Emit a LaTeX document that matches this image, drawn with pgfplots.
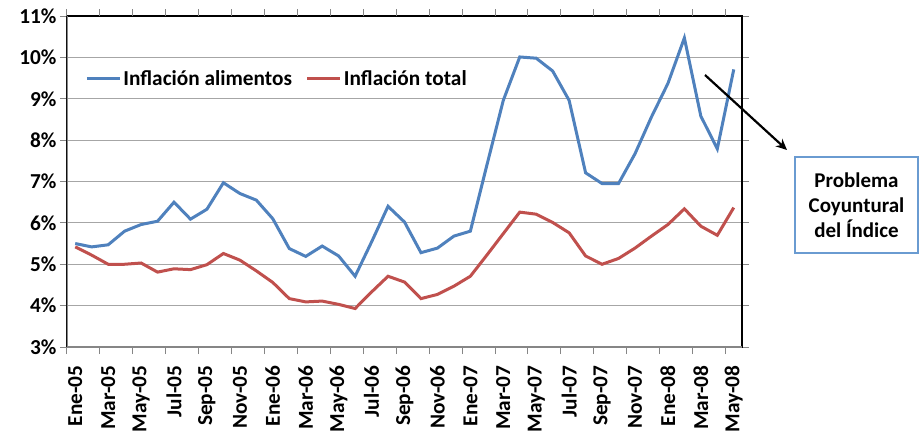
\documentclass[border=0pt]{standalone}
\usepackage{pgfplots}
\pgfplotsset{compat=1.18}
\usetikzlibrary{arrows.meta}
\usepackage{fontspec}
\setmainfont{Carlito}
\definecolor{cblue}{HTML}{4F81BD}
\definecolor{cred}{HTML}{C0504D}
\definecolor{axgray}{HTML}{868686}
\definecolor{gridgray}{HTML}{A6A6A6}
\definecolor{boxblue}{HTML}{6A9BD1}
\newcommand{\bigbf}{\bfseries\fontsize{21.3}{25}\selectfont}
\begin{document}
\begin{tikzpicture}[x=1pt,y=1pt]
\useasboundingbox (-67,-87) rectangle (853,347);
\begin{axis}[
 at={(0,0)}, anchor=south west,
 scale only axis, width=675pt, height=331pt,
 xmin=-0.5, xmax=40.5, ymin=3, ymax=11,
 ytick={3,4,...,11},
 yticklabels={3\%,4\%,5\%,6\%,7\%,8\%,9\%,10\%,11\%},
 xtick={0,2,...,40},
 xticklabels={Ene-05,Mar-05,May-05,Jul-05,Sep-05,Nov-05,Ene-06,Mar-06,May-06,Jul-06,Sep-06,Nov-06,Ene-07,Mar-07,May-07,Jul-07,Sep-07,Nov-07,Ene-08,Mar-08,May-08},
 xtick style={draw=none},
 extra x ticks={-0.5,1.5,3.5,5.5,7.5,9.5,11.5,13.5,15.5,17.5,19.5,21.5,23.5,25.5,27.5,29.5,31.5,33.5,35.5,37.5,39.5},
 extra x tick labels={},
 extra x tick style={xtick style={draw=axgray,line width=1pt}, grid=none},
 ytick style={draw=axgray, line width=1pt},
 tick align=outside, major tick length=7pt,
 ymajorgrids, grid style={gridgray, line width=1.2pt},
 axis line style={black, line width=1.3pt},
 ticklabel style={font=\bigbf},
 xticklabel style={rotate=90, anchor=east},
 xticklabel shift=8pt,
 legend style={at={(rel axis cs:0.027,0.81)}, anchor=west, draw=none, fill=none,
   legend columns=2, font=\bigbf, inner sep=0pt,
   /tikz/every even column/.append style={column sep=12pt}},
 legend image code/.code={\draw[#1] (0pt,0pt) -- (33pt,0pt);},
 legend cell align=left,
]
\addplot[cblue, line width=3pt] coordinates {
(0,5.50)(1,5.42)(2,5.47)(3,5.80)(4,5.96)(5,6.04)(6,6.50)(7,6.09)(8,6.33)(9,6.97)
(10,6.71)(11,6.55)(12,6.10)(13,5.38)(14,5.19)(15,5.44)(16,5.20)(17,4.71)(18,5.54)(19,6.40)
(20,6.02)(21,5.28)(22,5.39)(23,5.68)(24,5.80)(25,7.39)(26,8.96)(27,10.01)(28,9.98)(29,9.67)
(30,8.96)(31,7.21)(32,6.95)(33,6.95)(34,7.67)(35,8.56)(36,9.37)(37,10.47)(38,8.58)(39,7.79)(40,9.71)};
\addlegendentry{Inflación alimentos}
\addplot[cred, line width=3pt] coordinates {
(0,5.42)(1,5.22)(2,5.00)(3,5.00)(4,5.03)(5,4.81)(6,4.89)(7,4.87)(8,4.99)(9,5.26)
(10,5.10)(11,4.84)(12,4.56)(13,4.17)(14,4.09)(15,4.11)(16,4.03)(17,3.93)(18,4.33)(19,4.71)
(20,4.57)(21,4.17)(22,4.27)(23,4.47)(24,4.71)(25,5.22)(26,5.74)(27,6.26)(28,6.21)(29,6.01)
(30,5.76)(31,5.20)(32,5.00)(33,5.14)(34,5.39)(35,5.68)(36,5.96)(37,6.34)(38,5.92)(39,5.70)(40,6.37)};
\addlegendentry{Inflación total}
\draw[axgray, line width=1.6pt] (rel axis cs:0,1) -- (rel axis cs:0,0) -- (rel axis cs:1,0);
\end{axis}
\draw[-{Stealth[length=11pt,width=10pt]}, line width=2.2pt] (638,272) -- (720,197);
\node[draw=boxblue, line width=1.8pt, minimum width=123pt, minimum height=96pt, inner sep=0pt,
  align=center, font=\bfseries\fontsize{21}{25}\selectfont] at (789.5,142) {Problema\\Coyuntural\\del Índice};
\end{tikzpicture}
\end{document}
